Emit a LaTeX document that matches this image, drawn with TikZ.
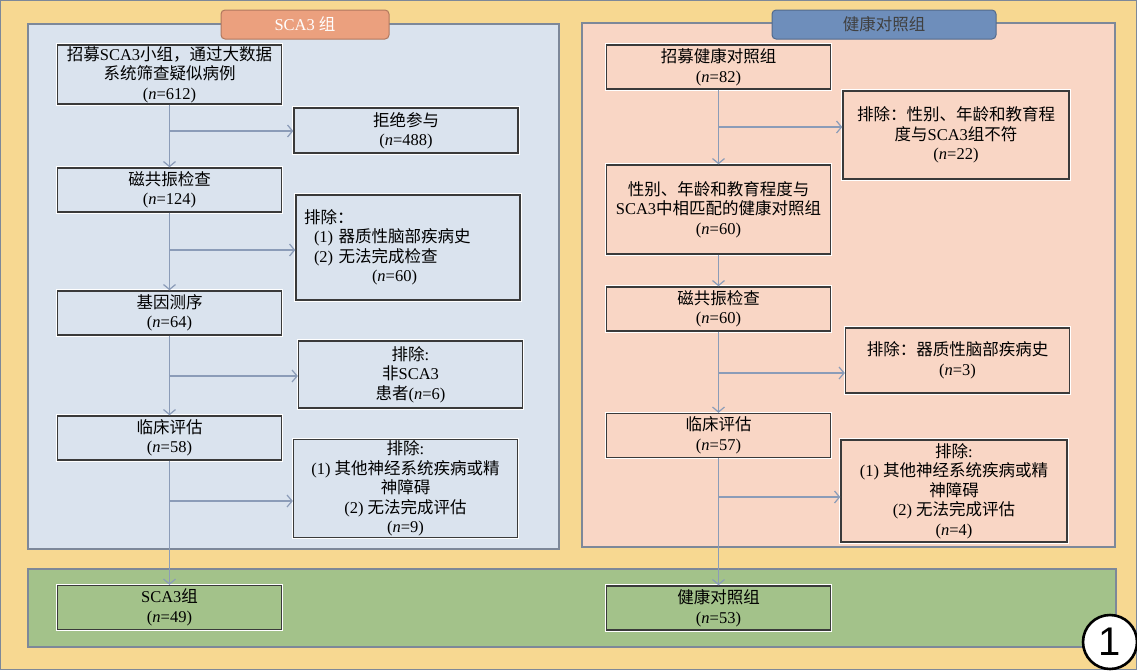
\documentclass[tikz,border=0pt]{standalone}
\usepackage{fontspec}
\setmainfont{Liberation Serif}
\newfontfamily\cjk{Noto Sans CJK SC}
\newfontfamily\numfont{Liberation Sans}
\usepackage{xcolor}
\usepackage{tikz}
\usetikzlibrary{arrows.meta,calc}
\definecolor{bgyellow}{HTML}{F7D891}
\definecolor{panelblue}{HTML}{DAE3EE}
\definecolor{panelpeach}{HTML}{F9D6C5}
\definecolor{panelgreen}{HTML}{A3C28A}
\definecolor{tagorange}{HTML}{EBA07E}
\definecolor{tagblue}{HTML}{6E8EBB}
\definecolor{flowline}{HTML}{8B9CB8}
\definecolor{boxline}{HTML}{3A3A3A}
\definecolor{frame}{HTML}{7D8899}
\newcommand{\zh}[1]{{\cjk #1}}
\newcommand{\nn}[1]{(\textit{n}=#1)}
\tikzset{
  panel/.style={draw=frame, line width=1.1pt},
  tag/.style={rounded corners=4pt, line width=1pt, minimum height=29pt,
    font=\fontsize{16.5}{19}\selectfont},
  box/.style={draw=boxline, line width=1.4pt,
    preaction={draw=white, line width=3.2pt},
    align=center, inner xsep=4pt, inner ysep=1pt,
    minimum width=224pt, minimum height=44pt,
    font=\fontsize{16.5}{19.5}\selectfont},
  lbox/.style={box, fill=panelblue},
  rbox/.style={box, fill=panelpeach},
  gbox/.style={box, fill=panelgreen},
  flow/.style={draw=flowline, line width=1.2pt,
    -{Straight Barb[length=5pt,width=12pt]}}
}
\begin{document}
\begin{tikzpicture}[x=1pt,y=-1pt]
  \useasboundingbox (0,0) rectangle (1137,670);

  % background and panels
  \fill[bgyellow] (0,0) rectangle (1137,670);
  \draw[frame, line width=1.2pt] (0.6,0.6) rectangle (1136.4,669.4);
  \draw[panel, fill=panelblue] (28,24) rectangle (559,549);
  \draw[panel, fill=panelpeach] (582,23) rectangle (1115,547);
  \draw[panel, fill=panelgreen] (28,569) rectangle (1116,647);

  \node[tag, draw=tagorange!75!black, fill=tagorange, text=white,
    minimum width=168pt] (tagA) at (305,24.5) {SCA3 \zh{组}};
  \node[tag, draw=tagblue!75!black, fill=tagblue, text=black!75,
    minimum width=224pt] (tagB) at (884,24.5) {\zh{健康对照组}};

  % SCA3 column
  \node[lbox, minimum height=59pt] (a1) at (169.5,74.5)
    {\zh{招募}SCA3\zh{小组，通过大数据}\\\zh{系统筛查疑似病例}\\\nn{612}};
  \node[lbox] (a2) at (169.5,190) {\zh{磁共振检查}\\\nn{124}};
  \node[lbox] (a3) at (169.5,313) {\zh{基因测序}\\\nn{64}};
  \node[lbox] (a4) at (169.5,438) {\zh{临床评估}\\\nn{58}};
  \node[gbox] (a5) at (169.5,607.5) {SCA3\zh{组}\\\nn{49}};

  \node[lbox, minimum height=45pt] (x1) at (406,130.5) {\zh{拒绝参与}\\\nn{488}};
  \node[lbox, align=left, text width=208pt, inner xsep=8pt,
    minimum height=105pt] (x2) at (408,247.5)
    {\zh{排除：}\\\hspace*{10pt}(1) \zh{器质性脑部疾病史}\\
     \hspace*{10pt}(2) \zh{无法完成检查}\\\hspace*{68pt}\nn{60}};
  \node[lbox, minimum height=67pt] (x3) at (410.5,374.5)
    {\zh{排除}:\\\zh{非}SCA3\\\zh{患者}\nn{6}};
  \node[lbox, minimum height=97pt] (x4) at (405.5,488.5)
    {\zh{排除}:\\(1) \zh{其他神经系统疾病或精}\\\zh{神障碍}\\
     (2) \zh{无法完成评估}\\\nn{9}};

  % control column
  \node[rbox] (b1) at (718.5,67) {\zh{招募健康对照组}\\\nn{82}};
  \node[rbox, minimum height=89pt] (b2) at (718.5,209.5)
    {\zh{性别、年龄和教育程度与}\\SCA3\zh{中相匹配的健康对照组}\\\nn{60}};
  \node[rbox] (b3) at (718.5,309) {\zh{磁共振检查}\\\nn{60}};
  \node[rbox] (b4) at (718.5,435.5) {\zh{临床评估}\\\nn{57}};
  \node[gbox] (b5) at (718.5,608) {\zh{健康对照组}\\\nn{53}};

  \node[rbox, minimum width=226pt, minimum height=88pt] (y1) at (956,135)
    {\zh{排除：性别、年龄和教育程}\\\zh{度与}SCA3\zh{组不符}\\\nn{22}};
  \node[rbox, minimum height=65pt] (y2) at (957.5,360.5)
    {\zh{排除：器质性脑部疾病史}\\\nn{3}};
  \node[rbox, minimum width=226pt, minimum height=102pt] (y3) at (954,491)
    {\zh{排除}:\\(1) \zh{其他神经系统疾病或精}\\\zh{神障碍}\\
     (2) \zh{无法完成评估}\\\nn{4}};

  % main flow
  \foreach \u/\v in {a1/a2,a2/a3,a3/a4,a4/a5,b1/b2,b2/b3,b3/b4,b4/b5}
    \draw[flow] (\u) -- (\v);

  % side branches
  \coordinate (ja1) at (169.5,131);
  \coordinate (ja2) at (169.5,250);
  \coordinate (ja3) at (169.5,376);
  \coordinate (ja4) at (169.5,501);
  \coordinate (jb1) at (718.5,127);
  \coordinate (jb2) at (718.5,373);
  \coordinate (jb3) at (718.5,497);
  \foreach \j/\t in {ja1/x1,ja2/x2,ja3/x3,ja4/x4,jb1/y1,jb2/y2,jb3/y3}
    \draw[flow] (\j) -- (\j -| \t.west);

  \node[circle, draw=black, line width=2.6pt, fill=white, minimum size=54pt,
    inner sep=0pt, font=\numfont\fontsize{40}{40}\selectfont] (num) at (1110,642) {1};
\end{tikzpicture}
\end{document}
